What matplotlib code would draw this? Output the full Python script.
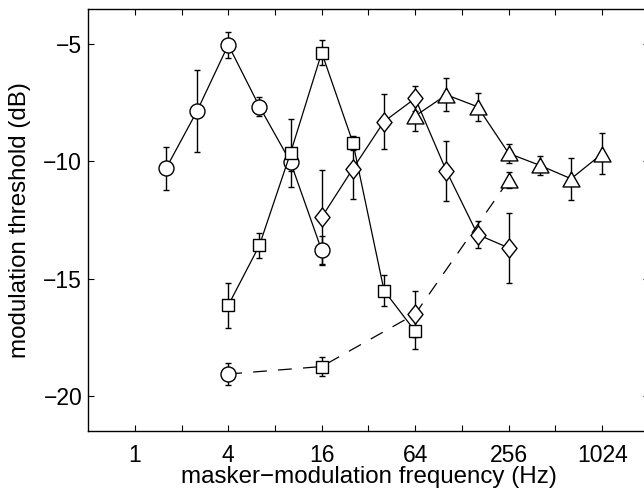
import matplotlib
matplotlib.use("Agg")
import matplotlib.pyplot as plt
import matplotlib.ticker as mticker

plt.rcParams['font.family'] = ['Liberation Sans', 'DejaVu Sans']

# ---- data ----
circ_f = [1.59, 2.52, 4.0, 6.35, 10.08, 16.0]
circ_y = [-10.3, -7.85, -5.03, -7.66, -10.03, -13.8]
circ_e = [0.9, 1.75, 0.55, 0.4, 0.4, 0.6]

sq_f = [4.0, 6.35, 10.08, 16.0, 25.4, 40.3, 64.0]
sq_y = [-16.14, -13.58, -9.63, -5.36, -9.2, -15.51, -17.25]
sq_e = [0.95, 0.53, 1.45, 0.53, 0.3, 0.66, 0.74]

dia_f = [16.0, 25.4, 40.3, 64.0, 101.6, 161.3, 256.0]
dia_y = [-12.38, -10.31, -8.3, -7.31, -10.41, -13.12, -13.69]
dia_e = [2.0, 1.3, 1.16, 0.53, 1.28, 0.59, 1.5]

tri_f = [64.0, 101.6, 161.3, 256.0, 406.4, 645.1, 1024.0]
tri_y = [-8.06, -7.16, -7.67, -9.66, -10.17, -10.74, -9.67]
tri_e = [0.64, 0.7, 0.6, 0.42, 0.4, 0.9, 0.87]

dash_f = [4.0, 16.0, 64.0, 256.0]
dash_y = [-19.07, -18.75, -16.51, -10.8]
dash_e = [0.48, 0.4, 0.97, 0.35]
dash_m = ['o', 's', 'D', '^']

xtick_vals = [1, 4, 16, 64, 256, 1024]
xtick_labels = ['1', '4', '16', '64', '256', '1024']
xminor_vals = [2, 8, 32, 128, 512]
ytick_vals = [-20, -15, -10, -5]
ytick_labels = ['\u221220', '\u221215', '\u221210', '\u22125']

# ---- custom markers ----
diamond = [(0, 1), (0.79, 0), (0, -1), (-0.79, 0), (0, 1)]
triangle = [(0, 0.88), (1, -0.88), (-1, -0.88), (0, 0.88)]
mk = {'o': ('o', 10.8), 's': ('s', 8.6), 'D': (diamond, 13.7), '^': (triangle, 12.2)}

fig = plt.figure(figsize=(6.44, 4.93), dpi=100)
ax = fig.add_axes([88/644, 62/493, 561/644, 422/493])

def series(f, y, e, m, ls):
    ax.errorbar(f, y, yerr=e, fmt='none', ecolor='k', elinewidth=1.0,
                capsize=2.2, capthick=1.0, zorder=2)
    marker, ms = mk[m]
    ax.plot(f, y, linestyle=ls, color='k', lw=0.9, marker=marker, ms=ms,
            mfc='white', mec='k', mew=1.0, zorder=3)

series(circ_f, circ_y, circ_e, 'o', '-')
series(sq_f, sq_y, sq_e, 's', '-')
series(dia_f, dia_y, dia_e, 'D', '-')
series(tri_f, tri_y, tri_e, '^', '-')

# dashed series
ax.errorbar(dash_f, dash_y, yerr=dash_e, fmt='none', ecolor='k', elinewidth=1.0,
            capsize=2.2, capthick=1.0, zorder=2)
ax.plot(dash_f, dash_y, color='k', lw=0.9, dashes=(11, 9), zorder=3)
for f, y, m in zip(dash_f, dash_y, dash_m):
    marker, ms = mk[m]
    ax.plot([f], [y], linestyle='none', marker=marker, ms=ms,
            mfc='white', mec='k', mew=1.0, zorder=4)

ax.set_xscale('log', base=2)
ax.set_xlim(0.5, 2048)
ax.set_ylim(-21.5, -3.5)
ax.xaxis.set_major_locator(mticker.FixedLocator(xtick_vals))
ax.xaxis.set_major_formatter(mticker.FixedFormatter(xtick_labels))
ax.xaxis.set_minor_locator(mticker.FixedLocator(xminor_vals))
ax.xaxis.set_minor_formatter(mticker.NullFormatter())
ax.yaxis.set_major_locator(mticker.FixedLocator(ytick_vals))
ax.yaxis.set_major_formatter(mticker.FixedFormatter(ytick_labels))
ax.yaxis.set_minor_locator(mticker.NullLocator())
ax.tick_params(which='both', direction='in', length=4.2, width=0.8,
               top=True, right=True, labelsize=16.5, colors='k')
ax.tick_params(axis='x', which='major', pad=9.2)
ax.tick_params(axis='y', which='major', pad=4.2)
for s in ax.spines.values():
    s.set_linewidth(1.0)

ax.set_xlabel('masker\u2212modulation frequency (Hz)', fontsize=17.4)
ax.set_ylabel('modulation threshold (dB)', fontsize=17.4)
ax.xaxis.set_label_coords(0.5, -0.083)
ax.yaxis.set_label_coords(-0.1016, 0.5)

fig.savefig('out.png', dpi=100)
